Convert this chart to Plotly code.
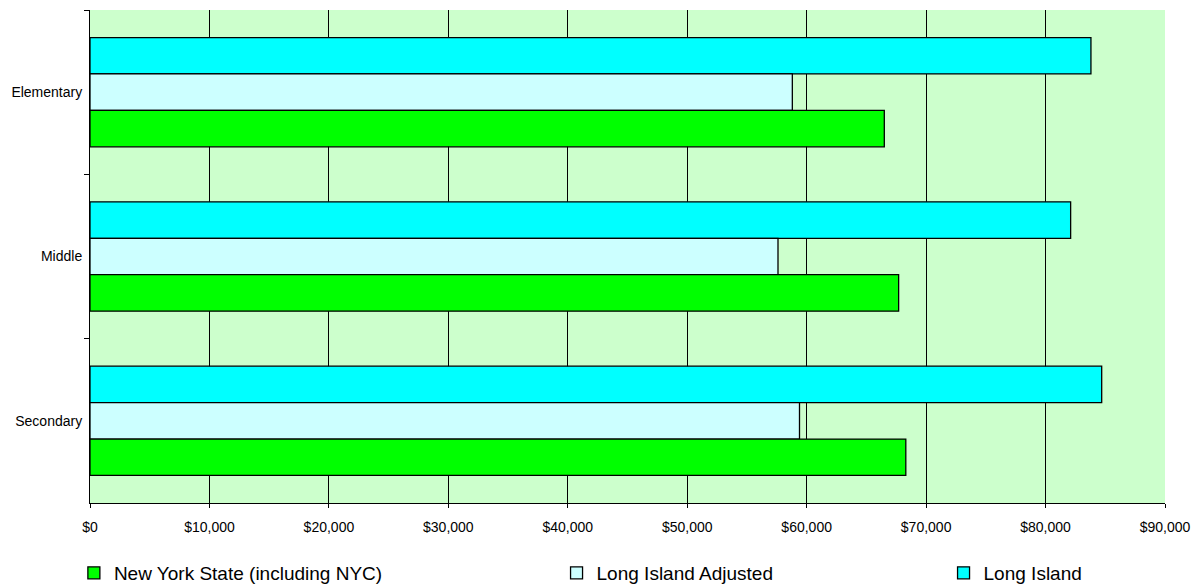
import plotly.graph_objects as go

# Average teacher salary by school level
levels = ["Elementary", "Middle", "Secondary"]
long_island = [83800, 82100, 84700]
long_island_adjusted = [58800, 57600, 59400]
ny_state = [66500, 67700, 68300]

x_ticks = list(range(0, 90001, 10000))
x_tick_labels = [f"${v:,}" for v in x_ticks]

series = [
    ("Long Island", long_island, "#00FFFF", "legend3"),
    ("Long Island Adjusted", long_island_adjusted, "#CCFFFF", "legend2"),
    ("New York State (including NYC)", ny_state, "#00FF00", "legend"),
]

fig = go.Figure()
for name, vals, color, lg in series:
    fig.add_trace(go.Bar(
        y=levels, x=vals, name=name, orientation="h",
        marker=dict(color=color, line=dict(color="black", width=1.3)),
        legend=lg, showlegend=True,
    ))

legend_font = dict(family="Arial, Liberation Sans, sans-serif", size=19, color="black")
legend_common = dict(orientation="h", yanchor="middle", y=-0.142, xanchor="left",
                     font=legend_font, bgcolor="rgba(0,0,0,0)", itemwidth=30,
                     traceorder="normal")

fig.update_layout(
    width=1200, height=585,
    margin=dict(l=90, r=35, t=10, b=82, autoexpand=False),
    showlegend=True,
    paper_bgcolor="white",
    plot_bgcolor="#CCFFCC",
    barmode="group",
    bargap=0.335,
    bargroupgap=0,
    font=dict(family="Arial, Liberation Sans, sans-serif", color="black"),
    legend=dict(x=-0.0150, **legend_common),
    legend2=dict(x=0.4340, **legend_common),
    legend3=dict(x=0.7940, **legend_common),
    xaxis=dict(
        range=[0, 90000], tickvals=x_ticks, ticktext=x_tick_labels,
        showgrid=True, gridcolor="black", gridwidth=1,
        zeroline=False, showline=True, linecolor="black", linewidth=1,
        ticks="outside", ticklen=4, tickcolor="black",
        tickfont=dict(size=14), ticklabelstandoff=7, fixedrange=True,
    ),
    yaxis=dict(
        categoryorder="array", categoryarray=levels, autorange="reversed",
        tickson="boundaries", ticks="outside", ticklen=5, tickcolor="black",
        showgrid=False, showline=True, linecolor="black", linewidth=1,
        tickfont=dict(size=14), ticklabelstandoff=4,
    ),
)

fig.write_html("out.html")
